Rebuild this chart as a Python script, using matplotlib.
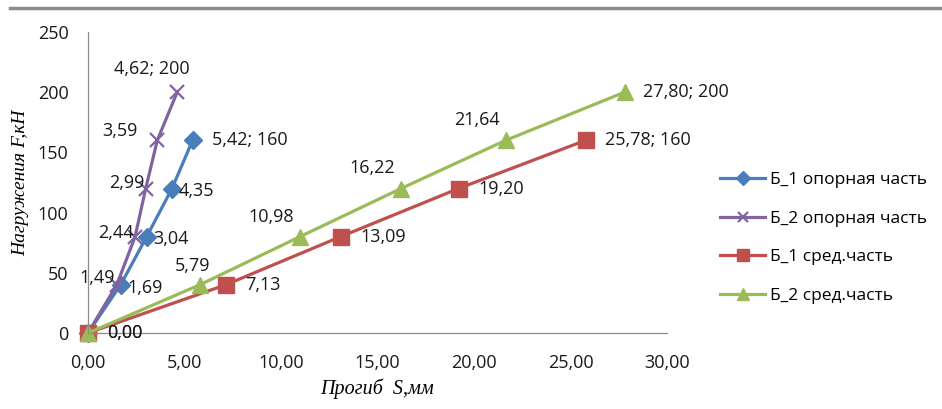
import numpy as np
import matplotlib.pyplot as plt
from matplotlib.lines import Line2D

# прогиб S (мм) при нагрузке F (кН)
load_b1_sup = [0, 40, 80, 120, 160]
defl_b1_sup = [0.00, 1.69, 3.04, 4.35, 5.42]
load_b2_sup = [0, 40, 80, 120, 160, 200]
defl_b2_sup = [0.00, 1.49, 2.44, 2.99, 3.59, 4.62]
load_b1_mid = [0, 40, 80, 120, 160]
defl_b1_mid = [0.00, 7.13, 13.09, 19.20, 25.78]
load_b2_mid = [0, 40, 80, 120, 160, 200]
defl_b2_mid = [0.00, 5.79, 10.98, 16.22, 21.64, 27.80]

names = ["Б_1 опорная часть", "Б_2 опорная часть", "Б_1 сред.часть", "Б_2 сред.часть"]
colors = ['#4A7EBB', '#8064A2', '#C0504D', '#9BBB59']

plt.rcParams['font.family'] = ['Open Sans', 'DejaVu Sans']

fig = plt.figure(figsize=(9.42, 4.09), dpi=100)
ax = fig.add_axes([88 / 942, 1 - 333 / 409, (667 - 88) / 942, (333 - 32) / 409])

# тонкая линия сверху страницы
fig.add_artist(Line2D([10 / 942, 1], [1 - 8 / 409, 1 - 8 / 409], color='#8c8c8c', lw=2.5))

series = [
    (defl_b1_sup, load_b1_sup, 'D', 9),
    (defl_b2_sup, load_b2_sup, 'x', 10),
    (defl_b1_mid, load_b1_mid, 's', 12),
    (defl_b2_mid, load_b2_mid, '^', 12),
]
for (xs, ys, mk, ms), name, c in zip(series, names, colors):
    ax.plot(xs, ys, color=c, lw=2.3, marker=mk, ms=ms, mew=1.6 if mk == 'x' else 1,
            mfc=c, mec=c, label=name, clip_on=False)

fs = 13


def lab(x, y, txt, dx, dy, ha='left', va='center'):
    ax.annotate(txt, (x, y), xytext=(dx, dy), textcoords='offset points',
                ha=ha, va=va, fontsize=fs, color='#1a1a1a', annotation_clip=False)


def fmt(v):
    return f"{v:.2f}".replace('.', ',')


# подписи Б_1 опорная часть
for x, y in zip(defl_b1_sup[1:-1], load_b1_sup[1:-1]):
    lab(x, y, fmt(x), 5, -2)
lab(defl_b1_sup[-1], load_b1_sup[-1], f"{fmt(defl_b1_sup[-1])}; {load_b1_sup[-1]}", 14, 0)

# подписи Б_2 опорная часть
offs = [(-1, 5), (-1, 3), (-1, 4), (-14, 7)]
for (x, y), (dx, dy) in zip(zip(defl_b2_sup[1:-1], load_b2_sup[1:-1]), offs):
    lab(x, y, fmt(x), dx, dy, ha='right')
lab(defl_b2_sup[-1], load_b2_sup[-1], f"{fmt(defl_b2_sup[-1])}; {load_b2_sup[-1]}", -18, 17, ha='center')

# подписи Б_1 сред.часть
for x, y in zip(defl_b1_mid[:-1], load_b1_mid[:-1]):
    lab(x, y, fmt(x), 14, 0)
lab(defl_b1_mid[-1], load_b1_mid[-1], f"{fmt(defl_b1_mid[-1])}; {load_b1_mid[-1]}", 14, 0)

# подписи Б_2 сред.часть
lab(defl_b2_mid[0], load_b2_mid[0], fmt(defl_b2_mid[0]), 14, 0)
lab(defl_b2_mid[1], load_b2_mid[1], fmt(defl_b2_mid[1]), -5, 7, ha='center', va='bottom')
for x, y in zip(defl_b2_mid[2:-1], load_b2_mid[2:-1]):
    lab(x, y, fmt(x), -4, 8, ha='right', va='bottom')
lab(defl_b2_mid[-1], load_b2_mid[-1], f"{fmt(defl_b2_mid[-1])}; {load_b2_mid[-1]}", 13, 0)

ax.set_xlim(0, 30)
ax.set_ylim(0, 250)
ax.set_xticks(np.arange(0, 31, 5))
ax.set_xticklabels([fmt(v) for v in np.arange(0, 31, 5)])
ax.set_yticks(np.arange(0, 251, 50))
ax.tick_params(length=0, labelsize=fs, colors='#1a1a1a')
ax.tick_params(axis='x', pad=15)
ax.tick_params(axis='y', pad=14)
for s in ['top', 'right']:
    ax.spines[s].set_visible(False)
for s in ['left', 'bottom']:
    ax.spines[s].set_color('#8c8c8c')
    ax.spines[s].set_linewidth(0.9)

ax.set_xlabel("Прогиб  S,мм", family='Liberation Serif', style='italic', fontsize=14.5, labelpad=5)
ax.set_ylabel("Нагружения F,кН", family='Liberation Serif', style='italic', fontsize=14, labelpad=6)

ax.legend(loc='center left', bbox_to_anchor=(1.065, 0.316), frameon=False, fontsize=12.5,
          handlelength=2.6, labelspacing=1.3, handletextpad=0.25, markerscale=0.75)

plt.savefig("out.png", dpi=100)
